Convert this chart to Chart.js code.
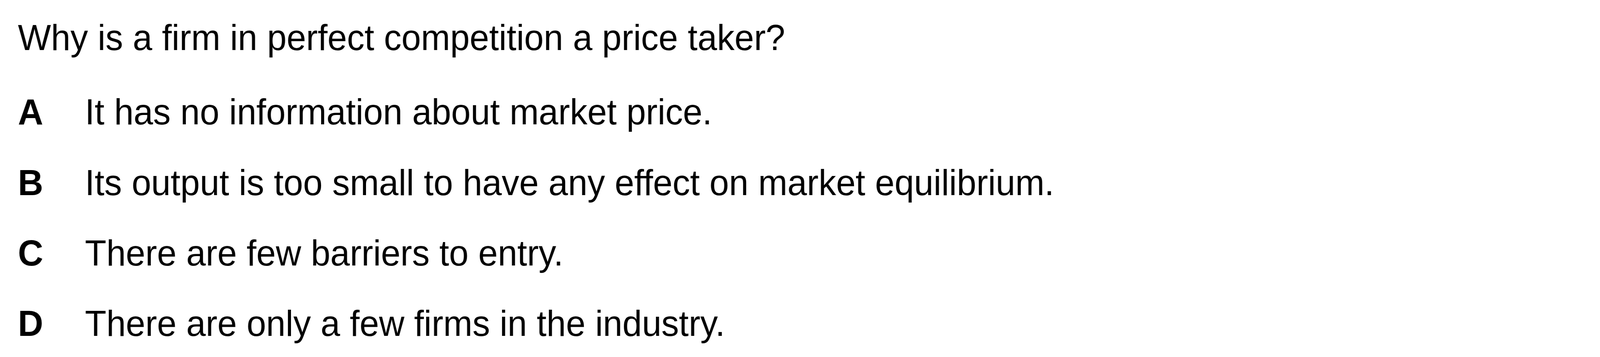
<!DOCTYPE html>
<html>
<head>
<meta charset="utf-8">
<script src="https://cdn.jsdelivr.net/npm/chart.js@4.4.1/dist/chart.umd.min.js"></script>
<style>
  html, body { margin: 0; padding: 0; background: #ffffff; overflow: hidden; }
  #c { display: block; width: 100vw; height: 913px; }
</style>
</head>
<body>
<canvas id="c" width="4201" height="913"></canvas>
<script>
// ---- content ----
const question = "Why is a firm in perfect competition a price taker?";
const letters = ["A", "B", "C", "D"];
const answers = [
  "It has no information about market price.",
  "Its output is too small to have any effect on market equilibrium.",
  "There are few barriers to entry.",
  "There are only a few firms in the industry."
];

const FONT_FAMILY = "'Liberation Sans', Arial, Helvetica, sans-serif";
const FONT_SIZE = 92;

const textPlugin = {
  id: 'questionText',
  afterDraw(chart) {
    const ctx = chart.ctx;
    const yScale = chart.scales.y;
    const area = chart.chartArea;
    ctx.save();
    ctx.fillStyle = '#000000';
    ctx.textAlign = 'left';
    ctx.font = `normal ${FONT_SIZE}px ${FONT_FAMILY}`;
    // question line above the options
    ctx.textBaseline = 'alphabetic';
    ctx.fillText(question, yScale.left, area.top - 165);
    // option texts aligned with the letter ticks
    ctx.textBaseline = 'middle';
    answers.forEach((t, i) => {
      ctx.fillText(t, yScale.left + 176, yScale.getPixelForTick(i));
    });
    ctx.restore();
  }
};

const canvas = document.getElementById('c');
new Chart(canvas, {
  type: 'bar',
  data: {
    labels: letters,
    datasets: []
  },
  options: {
    responsive: false,
    maintainAspectRatio: false,
    devicePixelRatio: 1,
    animation: false,
    events: [],
    layout: { padding: { left: 47, top: 293, bottom: 79, right: 0 } },
    plugins: {
      legend: { display: false },
      title: { display: false },
      tooltip: { enabled: false }
    },
    scales: {
      x: { display: false },
      y: {
        type: 'category',
        offset: false,
        grid: { display: false, drawTicks: false },
        border: { display: false },
        ticks: {
          color: '#000000',
          crossAlign: 'far',
          padding: 20,
          autoSkip: false,
          font: { family: FONT_FAMILY, size: FONT_SIZE, weight: 'bold' }
        }
      }
    }
  },
  plugins: [textPlugin]
});
// fit the 4201-wide drawing to the browser window width
canvas.style.width = '100vw';
canvas.style.height = '913px';
</script>
</body>
</html>
